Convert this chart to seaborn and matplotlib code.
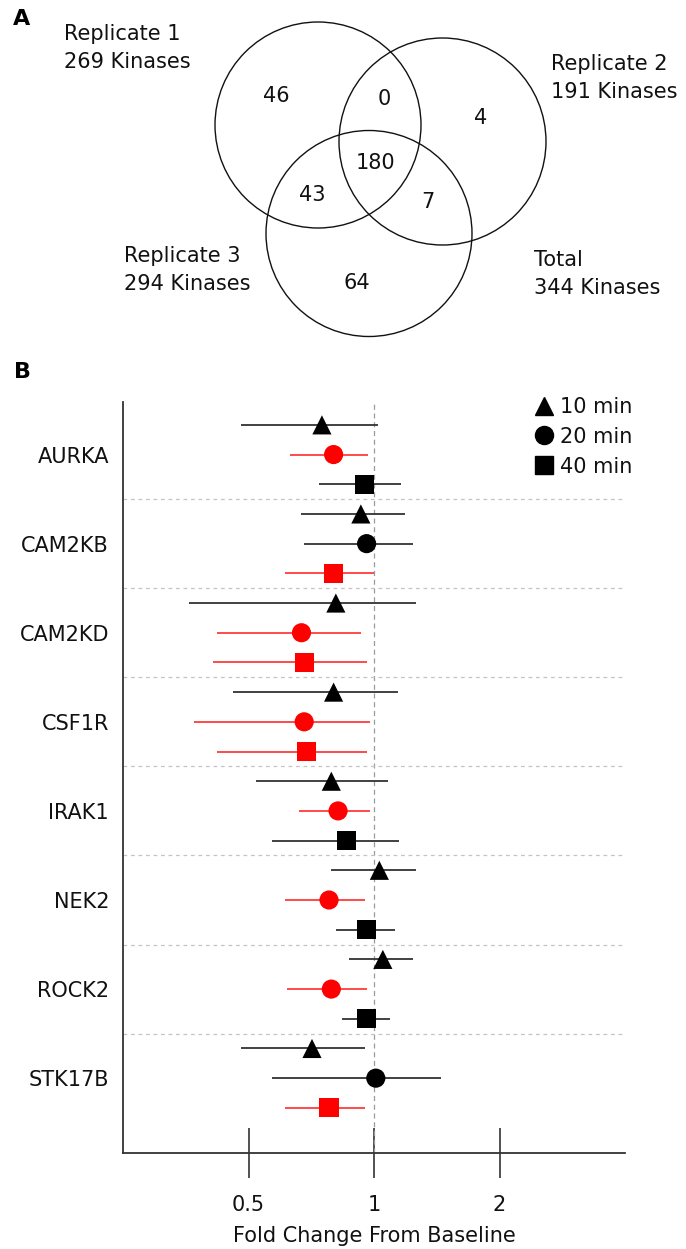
import numpy as np
import pandas as pd
import matplotlib
matplotlib.use("Agg")
import matplotlib.pyplot as plt
from matplotlib.patches import Circle
from matplotlib.lines import Line2D
import seaborn as sns

# ---------------- data ----------------
venn_sets = ["Replicate 1\n269 Kinases", "Replicate 2\n191 Kinases",
             "Replicate 3\n294 Kinases", "Total\n344 Kinases"]
venn_regions = ["1", "12", "2", "123", "13", "23", "3"]
venn_counts = [46, 0, 4, 180, 43, 7, 64]

kinases = ["AURKA", "CAM2KB", "CAM2KD", "CSF1R", "IRAK1", "NEK2", "ROCK2", "STK17B"]
timepoints = ["10 min", "20 min", "40 min"]

fold_10 = [0.75, 0.93, 0.81, 0.80, 0.79, 1.03, 1.05, 0.71]
lo_10 = [0.48, 0.67, 0.36, 0.46, 0.52, 0.79, 0.87, 0.48]
hi_10 = [1.02, 1.19, 1.26, 1.14, 1.08, 1.26, 1.24, 0.95]
sig_10 = [False, False, False, False, False, False, False, False]

fold_20 = [0.80, 0.96, 0.67, 0.68, 0.82, 0.78, 0.79, 1.01]
lo_20 = [0.63, 0.68, 0.42, 0.37, 0.66, 0.61, 0.62, 0.57]
hi_20 = [0.97, 1.24, 0.93, 0.98, 0.98, 0.95, 0.96, 1.45]
sig_20 = [True, False, True, True, True, True, True, False]

fold_40 = [0.95, 0.80, 0.68, 0.69, 0.86, 0.96, 0.96, 0.78]
lo_40 = [0.74, 0.61, 0.41, 0.42, 0.57, 0.81, 0.84, 0.61]
hi_40 = [1.16, 1.00, 0.96, 0.96, 1.15, 1.12, 1.09, 0.95]
sig_40 = [False, True, True, True, False, False, False, True]

x_ticks = [0.5, 1, 2]
x_ticklabels = ["0.5", "1", "2"]

# ---------------- style ----------------
sns.set_theme(style="white")
plt.rcParams["font.family"] = ["DejaVu Sans"]
FS = 15

W, H = 686, 1249
fig = plt.figure(figsize=(W / 100, H / 100), dpi=100)

# ---------------- panel A : Venn ----------------
axv = fig.add_axes([0, 1 - 350 / H, 1, 350 / H])
axv.set_xlim(0, W)
axv.set_ylim(350, 0)
axv.axis("off")
circles = [(318, 125, 103), (442.5, 141.5, 103.5), (369, 233.5, 103)]
for cx, cy, r in circles:
    axv.add_patch(Circle((cx, cy), r, fill=False, ec="#111111", lw=1.0))
set_pos = [(64, 48.5), (551, 77.5), (124, 270), (534, 274.5)]
for txt, (x, y) in zip(venn_sets, set_pos):
    axv.text(x, y, txt, ha="left", va="center", fontsize=FS, linespacing=1.5, color="#111111")
region_pos = {"1": (276, 96), "12": (384, 99), "2": (481, 118), "123": (376, 163),
              "13": (312, 195), "23": (428, 202), "3": (357, 283)}
for reg, cnt in zip(venn_regions, venn_counts):
    x, y = region_pos[reg]
    axv.text(x, y, str(cnt), ha="center", va="center", fontsize=FS, color="#111111")
axv.text(13, 19, "A", ha="left", va="center", fontsize=16, fontweight="bold", color="#000000")

fig.text(14 / W, 1 - 372 / H, "B", ha="left", va="center", fontsize=16,
         fontweight="bold", color="#000000")

# ---------------- panel B : forest plot ----------------
rows = []
for ti, (tp, fv, lo, hi, sg) in enumerate(zip(
        timepoints,
        [fold_10, fold_20, fold_40],
        [lo_10, lo_20, lo_40],
        [hi_10, hi_20, hi_40],
        [sig_10, sig_20, sig_40])):
    for ki, k in enumerate(kinases):
        rows.append(dict(kinase=k, time=tp, fold=fv[ki], lo=lo[ki], hi=hi[ki],
                         sig="sig" if sg[ki] else "ns", row=ki * 3 + ti))
df = pd.DataFrame(rows)

left, right = 123 / W, 625 / W
top, bottom = 1 - 402 / H, 1 - 1153 / H
ax = fig.add_axes([left, bottom, right - left, top - bottom])
ax.set_xscale("log", base=2)

line_col = {"sig": "#ff3b3b", "ns": "#333333"}
for sg, sub in df.groupby("sig"):
    ax.hlines(sub["row"], sub["lo"], sub["hi"], colors=line_col[sg], lw=1.3, zorder=2)

sns.scatterplot(data=df, x="fold", y="row", hue="sig", style="time",
                palette={"sig": "#ff0000", "ns": "#000000"},
                markers={"10 min": "^", "20 min": "o", "40 min": "s"},
                s=190, linewidth=0, legend=False, ax=ax, zorder=3)

ax.axvline(1, color="#9a9a9a", lw=0.9, ls=(0, (4, 3)), zorder=1)
for k in range(1, len(kinases)):
    ax.axhline(3 * k - 0.5, color="#c4c4c4", lw=0.9, ls=(0, (3, 3)), zorder=1)

ax.set_xlim(0.25, 4)
ax.set_ylim(24.52, -0.77)
ax.set_xticks(x_ticks)
ax.set_xticklabels(x_ticklabels)
ax.xaxis.set_minor_locator(matplotlib.ticker.NullLocator())
ax.set_yticks([3 * k + 1 for k in range(len(kinases))])
ax.set_yticklabels(kinases)
ax.tick_params(axis="x", direction="inout", length=36, width=1.1, color="#222222",
               labelsize=FS, pad=12, labelcolor="#111111", bottom=True)
ax.tick_params(axis="y", length=0, labelsize=FS, pad=10, labelcolor="#111111")
ax.set_xlabel("Fold Change From Baseline", fontsize=FS, labelpad=8, color="#111111")
ax.set_ylabel("")
for sp in ["top", "right"]:
    ax.spines[sp].set_visible(False)
for sp in ["left", "bottom"]:
    ax.spines[sp].set_color("#333333")
    ax.spines[sp].set_linewidth(1.3)

handles = [Line2D([], [], marker=m, ls="", color="black", markersize=13)
           for m in ["^", "o", "s"]]
ax.legend(handles, timepoints, loc="upper right", bbox_to_anchor=(632 / W, 1 - 397 / H),
          bbox_transform=fig.transFigure, frameon=False, fontsize=FS,
          handlelength=0.9, handletextpad=0.3, labelspacing=0.47,
          borderpad=0, borderaxespad=0, labelcolor="#111111")

fig.savefig("out.png", dpi=100)
